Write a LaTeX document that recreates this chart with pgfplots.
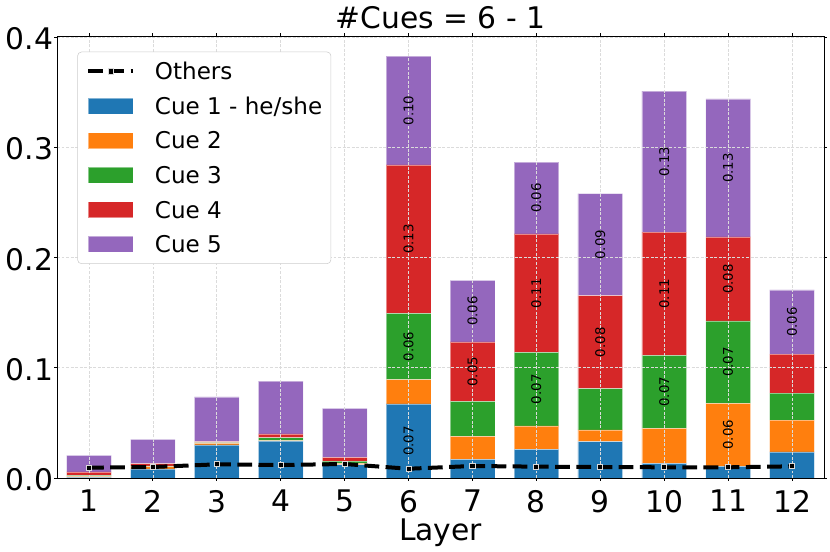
\documentclass[border=0pt]{standalone}
\usepackage{pgfplots}
\pgfplotsset{compat=1.18}
\usepackage{pgfplotstable}
\usepackage{fontspec}
\setmainfont{DejaVu Sans}
\definecolor{cA}{HTML}{1F77B4}
\definecolor{cB}{HTML}{FF7F0E}
\definecolor{cC}{HTML}{2CA02C}
\definecolor{cD}{HTML}{D62728}
\definecolor{cE}{HTML}{9467BD}

\pgfplotstableread{
layer c1     c2     c3     c4     c5     others
1     0.0005 0.0010 0.0010 0.0030 0.0150 0.0094
2     0.0082 0.0022 0.0005 0.0021 0.0220 0.0100
3     0.0300 0.0015 0.0005 0.0010 0.0405 0.0124
4     0.0335 0.0005 0.0025 0.0035 0.0480 0.0118
5     0.0120 0.0012 0.0022 0.0034 0.0444 0.0127
6     0.0672 0.0220 0.0602 0.1346 0.0987 0.0084
7     0.0170 0.0208 0.0318 0.0538 0.0560 0.0109
8     0.0260 0.0212 0.0668 0.1074 0.0651 0.0103
9     0.0330 0.0106 0.0374 0.0844 0.0926 0.0100
10    0.0133 0.0318 0.0662 0.1117 0.1279 0.0097
11    0.0106 0.0572 0.0747 0.0762 0.1252 0.0097
12    0.0236 0.0290 0.0243 0.0356 0.0581 0.0106
}\datatable

\pgfplotstableread{
x  y      label
6  0.0336 0.07
6  0.1193 0.06
6  0.2167 0.13
6  0.3334 0.10
7  0.0965 0.05
7  0.1514 0.06
8  0.0806 0.07
8  0.1677 0.11
8  0.2540 0.06
9  0.1232 0.08
9  0.2117 0.09
10 0.0782 0.07
10 0.1672 0.11
10 0.2870 0.13
11 0.0392 0.06
11 0.1052 0.07
11 0.1806 0.08
11 0.2813 0.13
12 0.1416 0.06
}\labeltable

\pgfplotsset{
  common/.style={
    scale only axis, width=575.25pt, height=331.5pt,
    xmin=0.5, xmax=12.5, ymin=0, ymax=0.401,
  },
  others/.style={black, line width=3pt, dash pattern=on 11.1pt off 4.8pt,
    mark=square*, mark size=1.9pt,
    mark options={solid, fill=black, draw=gray!30, line width=0.75pt}},
  otherslegend/.style={legend image code/.code={\draw[##1,sharp plot,sharp corners,mark repeat=2,mark phase=2]plot coordinates{(0pt,0pt)(16.875pt,0pt)(33.75pt,0pt)};}},
  barsty/.style={fill=#1, draw=white, draw opacity=0.45, line width=0.5pt,
    legend image code/.code={\path[sharp corners,fill=#1,draw=white,draw opacity=0.45,line width=0.5pt](0pt,-6pt)rectangle(33.75pt,6pt);}},
}

\begin{document}
\begin{tikzpicture}
\begin{axis}[common,
  ybar stacked, bar width=0.7,
  axis on top,
  axis line style={black, line width=0.6pt},
  xtick={1,2,3,4,5,6,7,8,9,10,11,12},
  ytick={0,0.1,0.2,0.3,0.4},
  tick align=outside, major tick length=2pt,
  tick style={black, line width=0.6pt},
  grid=major,
  grid style={gray!28, line width=0.45pt, dash pattern=on 2.2pt off 1.2pt},
  /pgf/number format/assume math mode=true,
  yticklabel={\pgfmathprintnumber[fixed, fixed zerofill, precision=1]{\tick}},
  ticklabel style={font=\fontsize{22.3}{26}\selectfont},
  xticklabel style={anchor=north, inner sep=0pt, yshift=-7pt},
  yticklabel style={anchor=east, inner sep=0pt, xshift=-0.8pt, yshift=-1.3pt},
  title={\#Cues = 6 - 1},
  title style={at={(axis description cs:0.5,1)}, anchor=base, yshift=-0.2pt, inner sep=0pt, font=\fontsize{22.3}{26}\selectfont},
  xlabel={Layer},
  xlabel style={at={(axis description cs:0.5,0)}, anchor=base, yshift=-46.5pt, inner sep=0pt, font=\fontsize{22.3}{26}\selectfont},
  legend cell align=left,
  legend style={at={(axis description cs:0.02647,0.9645)}, anchor=north west,
    font=\fontsize{17.3}{20}\selectfont,
    draw=black!20, rounded corners=3pt, fill=white,
    inner xsep=6.5pt, inner ysep=1.7pt,
    column sep=14.8pt, row sep=0pt,
    nodes={inner sep=0pt, text height=19.25pt, text depth=6.65pt}},
]
\addlegendimage{others, otherslegend}
\addlegendentry{Others}
\addplot[barsty=cA] table[x=layer, y=c1]{\datatable};
\addlegendentry{Cue 1 - he/she}
\addplot[barsty=cB] table[x=layer, y=c2]{\datatable};
\addlegendentry{Cue 2}
\addplot[barsty=cC] table[x=layer, y=c3]{\datatable};
\addlegendentry{Cue 3}
\addplot[barsty=cD] table[x=layer, y=c4]{\datatable};
\addlegendentry{Cue 4}
\addplot[barsty=cE] table[x=layer, y=c5]{\datatable};
\addlegendentry{Cue 5}
\coordinate (ll) at (rel axis cs:0,0);
\coordinate (ur) at (rel axis cs:1,1);
\end{axis}
\begin{axis}[common, hide axis]
\addplot[others] table[x=layer, y=others]{\datatable};
\addplot[only marks, mark=none, nodes near coords, point meta=explicit symbolic,
  nodes near coords style={rotate=90, anchor=center, inner sep=0pt, text=black,
    font=\fontsize{10}{12}\selectfont}]
  table[x=x, y=y, meta=label]{\labeltable};
\end{axis}
\pgfresetboundingbox
\useasboundingbox ([shift={(-42.75pt,-54.75pt)}]ll) rectangle ([shift={(4.5pt,27pt)}]ur);
\end{tikzpicture}
\end{document}
